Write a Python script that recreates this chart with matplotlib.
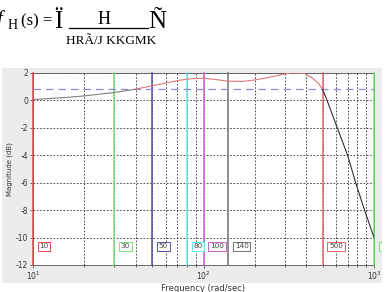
import matplotlib
matplotlib.use("Agg")
import matplotlib.pyplot as plt
from matplotlib.patches import Rectangle
import numpy as np

# Data
freq = [10, 15, 20, 30, 40, 50, 60, 72, 85, 100, 115, 140, 170, 200, 240, 280,
        330, 390, 436, 477, 500, 530, 600, 700, 780, 880, 1000]
mag_db = [0.05, 0.18, 0.31, 0.56, 0.8, 1.05, 1.25, 1.45, 1.56, 1.6, 1.52, 1.38,
          1.37, 1.47, 1.65, 1.83, 2.0, 1.95, 1.6, 1.17, 0.78, 0.0, -1.8, -4.0,
          -6.0, -8.0, -10.0]
band_start_idx = 4   # 40 rad/s
band_end_idx = 20    # 500 rad/s
ref_level = 0.78
marker_freqs = [10, 30, 50, 80, 100, 140, 500, 1000]
marker_labels = ["10", "30", "50", "80", "100", "140", "500", "1000"]
marker_colors = ["#e04848", "#78e078", "#5050a8", "#60e8e8", "#d060d0", "#707070", "#e06868", "#70e070"]
yticks = [-12, -10, -8, -6, -4, -2, 0, 2]

W, H = 388, 292
fig = plt.figure(figsize=(W / 100, H / 100), dpi=100)
fig.patch.set_facecolor("white")

panel = Rectangle((2 / W, 1 - 283 / H), 380 / W, (283 - 68) / H,
                  transform=fig.transFigure, facecolor="#ececec", edgecolor="none", zorder=-5)
fig.add_artist(panel)

ax = fig.add_axes([33 / W, 1 - 265 / H, (374 - 33) / W, (265 - 72.7) / H])
ax.set_zorder(2)
ax.set_facecolor("white")
ax.set_xscale("log")
ax.set_xlim(10, 1000)
ax.set_ylim(-12, 2)
ax.set_yticks(yticks)
ax.set_yticklabels([str(v) for v in yticks])
ax.tick_params(labelsize=5.5, length=2, width=0.5, pad=1.5, colors="#333333")
ax.tick_params(which="minor", length=1.2, width=0.4)
for s in ax.spines.values():
    s.set_linewidth(0.6)
    s.set_color("#555555")

ax.grid(True, which="both", axis="x", linestyle=(0, (2, 2)), color="#333333", linewidth=0.6)
ax.grid(True, which="major", axis="y", linestyle=(0, (2, 2)), color="#333333", linewidth=0.6)
ax.set_axisbelow(True)

ax.set_xlabel("Frequency (rad/sec)", fontsize=6, labelpad=1, color="#333333")
ax.set_ylabel("Magnitude (dB)", fontsize=5, labelpad=2, color="#333333")

# vertical markers
for f, lab, c in zip(marker_freqs, marker_labels, marker_colors):
    ax.axvline(f, color=c, linewidth=1.1, zorder=3, clip_on=False)
    ax.text(f * 1.09, -10.65, lab, fontsize=5.2, color="#444444", ha="left", va="center",
            bbox=dict(boxstyle="square,pad=0.25", facecolor="white", edgecolor=c, linewidth=0.7),
            zorder=5, clip_on=False)

# reference dashed line
ax.axhline(ref_level, color="#8c8ce0", linestyle=(0, (6, 4)), linewidth=0.9, zorder=4)

# curve
ax.plot(freq[:band_start_idx + 1], mag_db[:band_start_idx + 1], color="#808080", linewidth=0.8, zorder=6)
ax.plot(freq[band_start_idx:band_end_idx + 1], mag_db[band_start_idx:band_end_idx + 1],
        color="#e07878", linewidth=0.8, zorder=6)
ax.plot(freq[band_end_idx:], mag_db[band_end_idx:], color="#303030", linewidth=0.8, zorder=6)

# white strip beyond the gray panel on the right (clips the last label like the reference)
fig.add_artist(Rectangle((382 / W, 0), 6 / W, 1, transform=fig.transFigure,
                         facecolor="white", edgecolor="none", zorder=10))

# title equation (garbled symbol-font rendering)
serif = "Liberation Serif"
def ptext(x, y, s, size, **kw):
    fig.text(x / W, 1 - y / H, s, fontsize=size, family=serif, ha="left", va="baseline", **kw)

ptext(-3, 25, "f", 15, style="italic")
ptext(8, 29, "H", 10)
ptext(21, 25, "(s) =", 12)
ptext(54, 28, "Ï", 18)
ptext(98, 24, "H", 13)
fig.add_artist(plt.Line2D([69 / W, 148 / W], [1 - 27.5 / H, 1 - 27.5 / H], color="black", linewidth=0.9,
                          transform=fig.transFigure))
ptext(66, 44, "HRÃ/J KKGMK", 9.5)
ptext(148, 28, "Ñ", 18)

fig.savefig("out.png", dpi=100, facecolor="white")
